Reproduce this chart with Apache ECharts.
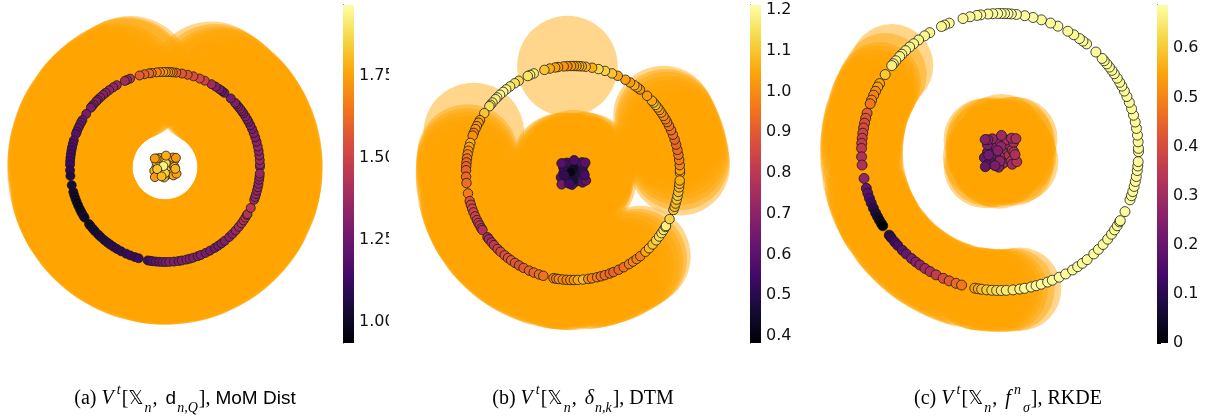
<!DOCTYPE html>
<html><head><meta charset="utf-8">
<script src="https://cdn.jsdelivr.net/npm/echarts@6/dist/echarts.min.js"></script>
<style>html,body{margin:0;padding:0;background:#fff}#c{width:1210px;height:416px}</style>
</head><body><div id="c"></div>
<script>
// ---------- data ----------
// angle (degrees) of each point on the outer ring (radius 1), shared by all three panels
const ringAngle = [
  0.1, 1.5, 4.2, 7.0, 9.8, 12.5, 15.4, 18.2, 21.0, 23.6,
  26.1, 28.4, 30.2, 32.2, 34.4, 36.1, 37.8, 39.5, 41.2, 42.5,
  46.2, 51.3, 53.2, 55.0, 57.8, 60.7, 65.3, 68.6, 72.6, 76.2,
  79.7, 83.2, 85.3, 86.7, 88.1, 89.5, 91.0, 93.0, 95.0, 98.0,
  99.6, 102.5, 105.5, 111.5, 113.6, 115.0, 120.5, 123.0, 126.0, 128.6,
  130.7, 133.0, 135.1, 136.4, 138.8, 140.4, 141.4, 146.0, 150.4, 152.0,
  154.0, 155.8, 158.0, 159.6, 163.7, 165.9, 168.0, 170.0, 172.2, 174.3,
  176.4, 178.5, 182.0, 185.4, 191.0, 195.2, 197.3, 199.5, 201.6, 203.9,
  206.1, 207.8, 209.4, 211.1, 212.2, 216.9, 218.2, 220.5, 222.4, 225.2,
  227.4, 230.3, 232.6, 234.7, 237.2, 239.7, 242.5, 245.8, 248.5, 251.5,
  253.9, 259.5, 261.0, 262.4, 264.5, 266.6, 268.6, 270.5, 272.6, 275.4,
  278.2, 280.2, 283.0, 285.1, 287.3, 290.1, 292.2, 295.3, 298.3, 301.6,
  304.1, 306.5, 309.0, 312.6, 315.3, 318.1, 321.0, 323.6, 325.8, 327.8,
  329.7, 330.3, 334.5, 339.8, 341.6, 343.4, 345.6, 347.7, 349.8, 352.3,
  354.2, 356.0
];
// (a) MoM Dist values on the ring
const ringValA = [
  1.36, 1.35, 1.37, 1.34, 1.33, 1.35, 1.32, 1.30, 1.31, 1.29,
  1.30, 1.28, 1.30, 1.31, 1.29, 1.30, 1.32, 1.30, 1.28, 1.30,
  1.28, 1.25, 1.24, 1.26, 1.30, 1.38, 1.50, 1.52, 1.54, 1.56,
  1.57, 1.60, 1.66, 1.70, 1.72, 1.74, 1.73, 1.71, 1.68, 1.64,
  1.62, 1.60, 1.58, 1.42, 1.40, 1.38, 1.36, 1.35, 1.34, 1.33,
  1.33, 1.32, 1.30, 1.31, 1.30, 1.29, 1.28, 1.28, 1.26, 1.25,
  1.24, 1.23, 1.22, 1.20, 1.19, 1.18, 1.17, 1.16, 1.15, 1.15,
  1.14, 1.13, 1.10, 1.07, 1.04, 1.02, 1.00, 0.99, 0.98, 0.97,
  0.97, 0.98, 0.99, 1.00, 1.01, 1.00, 1.01, 1.02, 1.03, 1.04,
  1.05, 1.06, 1.07, 1.08, 1.09, 1.10, 1.10, 1.11, 1.12, 1.12,
  1.13, 1.15, 1.17, 1.19, 1.22, 1.24, 1.26, 1.28, 1.30, 1.30,
  1.29, 1.30, 1.31, 1.30, 1.31, 1.29, 1.30, 1.28, 1.27, 1.26,
  1.27, 1.28, 1.30, 1.32, 1.33, 1.36, 1.38, 1.40, 1.42, 1.44,
  1.45, 1.43, 1.45, 1.38, 1.37, 1.36, 1.35, 1.36, 1.34, 1.35,
  1.36, 1.35
];
// (b) DTM values on the ring
const ringValB = [
  1.05, 1.04, 0.99, 0.97, 0.95, 0.94, 0.93, 0.93, 0.94, 0.95,
  0.96, 0.97, 0.98, 0.99, 1.02, 1.03, 1.05, 1.08, 1.10, 1.05,
  1.03, 1.02, 1.04, 1.06, 1.03, 1.04, 1.05, 1.10, 1.12, 1.13,
  1.06, 1.07, 1.08, 1.07, 1.05, 1.04, 1.02, 0.99, 1.02, 1.03,
  1.04, 1.06, 1.10, 1.17, 1.18, 1.16, 1.14, 1.15, 1.17, 1.18,
  1.19, 1.20, 1.19, 1.18, 1.17, 1.16, 1.15, 1.10, 1.04, 1.03,
  1.01, 1.02, 0.98, 1.01, 1.06, 1.04, 1.01, 0.99, 0.95, 0.93,
  0.92, 0.92, 0.93, 0.94, 0.97, 0.88, 0.86, 0.85, 0.84, 0.83,
  0.82, 0.80, 0.80, 0.79, 0.78, 0.76, 0.75, 0.78, 0.80, 0.83,
  0.85, 0.87, 0.88, 0.90, 0.89, 0.88, 0.90, 0.92, 0.93, 0.94,
  0.95, 0.97, 0.98, 1.00, 0.99, 0.98, 1.00, 1.02, 1.05, 1.08,
  1.00, 0.98, 0.97, 0.95, 0.94, 0.93, 0.92, 0.93, 0.95, 0.97,
  0.99, 0.98, 0.98, 1.05, 1.08, 1.10, 1.12, 1.14, 1.15, 1.16,
  1.17, 1.18, 1.12, 1.10, 1.09, 1.08, 1.10, 1.11, 1.09, 1.08,
  1.07, 1.06
];
// (c) RKDE values on the ring
const ringValC = [
  0.680, 0.682, 0.679, 0.684, 0.681, 0.680, 0.683, 0.680, 0.682, 0.679,
  0.681, 0.683, 0.680, 0.682, 0.684, 0.680, 0.681, 0.683, 0.680, 0.682,
  0.681, 0.680, 0.683, 0.682, 0.680, 0.681, 0.684, 0.682, 0.683, 0.685,
  0.684, 0.686, 0.685, 0.687, 0.686, 0.685, 0.686, 0.684, 0.685, 0.683,
  0.682, 0.680, 0.678, 0.676, 0.675, 0.674, 0.670, 0.672, 0.668, 0.670,
  0.671, 0.669, 0.670, 0.668, 0.667, 0.669, 0.660, 0.600, 0.550, 0.540,
  0.520, 0.500, 0.500, 0.480, 0.440, 0.420, 0.410, 0.400, 0.380, 0.370,
  0.360, 0.350, 0.330, 0.320, 0.270, 0.200, 0.180, 0.150, 0.130, 0.100,
  0.080, 0.060, 0.040, 0.020, 0.000, 0.100, 0.110, 0.130, 0.150, 0.180,
  0.200, 0.230, 0.250, 0.270, 0.300, 0.320, 0.360, 0.400, 0.430, 0.460,
  0.480, 0.540, 0.560, 0.580, 0.600, 0.620, 0.630, 0.640, 0.650, 0.655,
  0.660, 0.680, 0.681, 0.679, 0.682, 0.680, 0.681, 0.683, 0.680, 0.682,
  0.681, 0.679, 0.680, 0.682, 0.681, 0.683, 0.680, 0.682, 0.681, 0.679,
  0.680, 0.682, 0.681, 0.683, 0.680, 0.681, 0.682, 0.680, 0.681, 0.683,
  0.682, 0.680
];
// central cluster: polar radius and angle of each point
const clusterR = [
  0.01, 0.03, 0.035, 0.04, 0.05, 0.055, 0.055, 0.065, 0.07, 0.07,
  0.075, 0.08, 0.085, 0.085, 0.09, 0.09, 0.10, 0.10, 0.105, 0.105,
  0.11, 0.11, 0.12, 0.12, 0.125, 0.125, 0.13, 0.13, 0.14, 0.14,
  0.15, 0.15, 0.10, 0.065, 0.04, 0.02, 0.085, 0.11, 0.12, 0.105
];
const clusterAngle = [
  30, 200, 110, 300, 20, 160, 250, 70, 340, 130,
  210, 45, 285, 95, 180, 10, 235, 60, 150, 320,
  120, 265, 35, 200, 315, 135, 225, 50, 140, 330,
  40, 225, 0, 270, 80, 150, 195, 350, 85, 250
];
const clusterValA = [
  1.94, 1.92, 1.90, 1.90, 1.89, 1.87, 1.86, 1.86, 1.84, 1.85,
  1.83, 1.84, 1.82, 1.83, 1.81, 1.82, 1.80, 1.81, 1.79, 1.80,
  1.78, 1.79, 1.77, 1.78, 1.76, 1.77, 1.75, 1.76, 1.74, 1.75,
  1.73, 1.74, 1.81, 1.85, 1.88, 1.93, 1.83, 1.79, 1.78, 1.80
];
const clusterValB = [
  0.40, 0.42, 0.44, 0.43, 0.45, 0.47, 0.48, 0.47, 0.50, 0.49,
  0.51, 0.50, 0.52, 0.51, 0.53, 0.52, 0.55, 0.53, 0.54, 0.56,
  0.55, 0.57, 0.56, 0.58, 0.59, 0.57, 0.64, 0.58, 0.59, 0.61,
  0.60, 0.65, 0.54, 0.48, 0.45, 0.41, 0.52, 0.56, 0.57, 0.55
];
const clusterValC = [
  0.27, 0.24, 0.28, 0.30, 0.31, 0.23, 0.26, 0.30, 0.32, 0.25,
  0.22, 0.32, 0.29, 0.29, 0.21, 0.33, 0.20, 0.31, 0.24, 0.33,
  0.27, 0.25, 0.32, 0.21, 0.30, 0.26, 0.19, 0.31, 0.25, 0.33,
  0.32, 0.20, 0.33, 0.27, 0.28, 0.25, 0.22, 0.32, 0.29, 0.23
];
// sublevel threshold t and ball radius (ring units) per panel
const thresholds = [1.47, 1.0, 0.665];
const ballRadius = [0.66, 0.47, 0.30];
// colorbar ranges and ticks
const cbMin = [0.936, 0.383, 0.0];
const cbMax = [1.966, 1.212, 0.688];
const cbTicksA = [1.00, 1.25, 1.50, 1.75];
const cbLabelsA = ['1.00', '1.25', '1.50', '1.75'];
const cbTicksB = [0.4, 0.5, 0.6, 0.7, 0.8, 0.9, 1.0, 1.1, 1.2];
const cbLabelsB = ['0.4', '0.5', '0.6', '0.7', '0.8', '0.9', '1.0', '1.1', '1.2'];
const cbTicksC = [0, 0.1, 0.2, 0.3, 0.4, 0.5, 0.6];
const cbLabelsC = ['0', '0.1', '0.2', '0.3', '0.4', '0.5', '0.6'];

// ---------- build ----------
const inferno = ['#000004','#160b39','#420a68','#6a176e','#932667','#bc3754','#dd513a','#f37819','#fca50a','#f6d746','#fcffa4'];
const ringVals = [ringValA, ringValB, ringValC];
const clusterVals = [clusterValA, clusterValB, clusterValC];
const cbTicks = [cbTicksA, cbTicksB, cbTicksC];
const cbLabels = [cbLabelsA, cbLabelsB, cbLabelsC];

const polarCenters = [[165, 167], [573, 173], [1000, 152]];
const polarRadii = [190, 214, 277];
const symbolSizes = [9, 9.5, 10];
const cbLeft = [343, 750, 1157];

const chart = echarts.init(document.getElementById('c'), null, {renderer: 'canvas'});

const polar = [], angleAxis = [], radiusAxis = [], grid = [], xAxis = [], yAxis = [], series = [], visualMap = [];
for (let i = 0; i < 3; i++) {
  polar.push({center: polarCenters[i], radius: polarRadii[i]});
  angleAxis.push({polarIndex: i, type: 'value', min: 0, max: 360, startAngle: 0, clockwise: false, show: false,
    axisLine: {show: false}, axisTick: {show: false}, axisLabel: {show: false}, splitLine: {show: false}});
  radiusAxis.push({polarIndex: i, type: 'value', min: 0, max: 2, show: false,
    axisLine: {show: false}, axisTick: {show: false}, axisLabel: {show: false}, splitLine: {show: false}});

  const pts = ringAngle.map((a, k) => [1, a, ringVals[i][k]])
    .concat(clusterR.map((r, k) => [r, clusterAngle[k], clusterVals[i][k]]));
  const balls = pts.filter(p => p[2] <= thresholds[i]).map(p => [p[0], p[1]]);
  const br = ballRadius[i];
  series.push({
    type: 'custom', coordinateSystem: 'polar', polarIndex: i, silent: true, z: 1,
    data: balls,
    renderItem: function (params, api) {
      const c = api.coord([api.value(0), api.value(1)]);
      const o = api.coord([0, 0]);
      const e = api.coord([br, 0]);
      const r = Math.hypot(e[0] - o[0], e[1] - o[1]);
      return {type: 'circle', shape: {cx: c[0], cy: c[1], r: r}, style: {fill: 'rgba(255,165,0,0.45)'}};
    }
  });
  const sIdx = series.length;
  series.push({
    type: 'scatter', coordinateSystem: 'polar', polarIndex: i, z: 3,
    data: pts, symbol: 'circle', symbolSize: symbolSizes[i],
    itemStyle: {borderColor: '#1a1a1a', borderWidth: 0.8, opacity: 1},
    emphasis: {disabled: true}
  });
  visualMap.push({type: 'continuous', show: false, seriesIndex: sIdx, dimension: 2,
    min: cbMin[i], max: cbMax[i], inRange: {color: inferno}});

  // colorbar
  grid.push({left: cbLeft[i], top: 5, width: 11, height: 338});
  xAxis.push({gridIndex: i, type: 'value', min: 0, max: 1, show: false});
  const ticks = cbTicks[i], labels = cbLabels[i];
  yAxis.push({gridIndex: i, type: 'value', position: 'right', min: cbMin[i], max: cbMax[i],
    axisLine: {show: true, lineStyle: {color: '#000', width: 1}},
    axisTick: {show: true, inside: false, length: 4, lineStyle: {color: '#000', width: 1}, customValues: ticks},
    axisLabel: {show: true, margin: 5, color: '#111', fontSize: 16, fontFamily: 'DejaVu Sans',
      customValues: ticks,
      formatter: function (v) { const k = ticks.findIndex(t => Math.abs(t - v) < 1e-6); return k >= 0 ? labels[k] : ''; }},
    splitLine: {show: false}});
  series.push({
    type: 'custom', xAxisIndex: i, yAxisIndex: i, silent: true,
    data: [[0, cbMin[i], 1, cbMax[i]]],
    renderItem: function (params, api) {
      const a = api.coord([api.value(0), api.value(1)]);
      const b = api.coord([api.value(2), api.value(3)]);
      return {type: 'rect',
        shape: {x: Math.min(a[0], b[0]), y: Math.min(a[1], b[1]), width: Math.abs(b[0] - a[0]), height: Math.abs(b[1] - a[1])},
        style: {fill: new echarts.graphic.LinearGradient(0, 1, 0, 0, inferno.map((c, k) => ({offset: k / 10, color: c})))}};
    }
  });
}

const serif = 'Liberation Serif, DejaVu Serif, serif';
const rich = {
  n: {fontFamily: serif, fontSize: 20, lineHeight: 32, color: '#000'},
  i: {fontFamily: serif, fontSize: 20, fontStyle: 'italic', lineHeight: 32, color: '#000'},
  sup: {fontFamily: serif, fontSize: 14, fontStyle: 'italic', lineHeight: 16, verticalAlign: 'top', padding: [0, 1, 0, 3], color: '#000'},
  sub: {fontFamily: serif, fontSize: 14, fontStyle: 'italic', lineHeight: 17, verticalAlign: 'bottom', padding: [0, 1, 0, 1], color: '#000'},
  bb: {fontFamily: 'DejaVu Sans', fontSize: 19, lineHeight: 32, color: '#000'},
  sf: {fontFamily: 'Liberation Sans, DejaVu Sans, sans-serif', fontSize: 19, lineHeight: 32, color: '#000'},
  sp: {fontFamily: serif, fontSize: 20, lineHeight: 32, padding: [0, 3, 0, 0], color: '#000'}
};
const captions = [
  {x: 185, text: '{n|(a) }{i|V}{sup|t}{n|[}{bb|𝕏}{sub|n}{sp|, }{sf|d}{sub|n,Q}{n|], }{sf|MoM Dist}'},
  {x: 583, text: '{n|(b) }{i|V}{sup|t}{n|[}{bb|𝕏}{sub|n}{sp|, }{i|δ}{sub|n,k}{n|], DTM}'},
  {x: 1008, text: '{n|(c) }{i|V}{sup|t}{n|[}{bb|𝕏}{sub|n}{sp|, }{i|f}{sup|n}{sub|σ}{n|], RKDE}'}
];

const graphic = [
  {type: 'rect', shape: {x: 389, y: 0, width: 22, height: 352}, style: {fill: '#fff'}, z: 100}
].concat(captions.map(c => ({
  type: 'text', x: c.x, y: 399, z: 100,
  style: {text: c.text, rich: rich, align: 'center', verticalAlign: 'middle'}
})));

chart.setOption({
  animation: false,
  backgroundColor: '#fff',
  polar, angleAxis, radiusAxis, grid, xAxis, yAxis, visualMap, series, graphic
});
</script></body></html>
